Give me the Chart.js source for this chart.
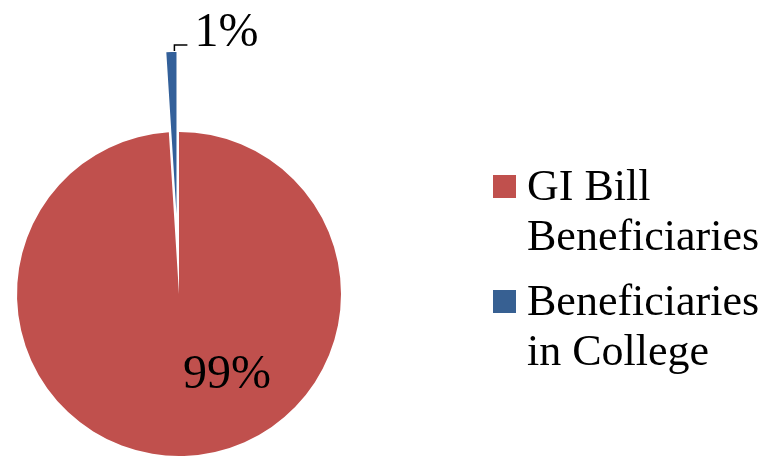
<!DOCTYPE html>
<html>
<head>
<meta charset="utf-8">
<script src="https://cdn.jsdelivr.net/npm/chart.js@4/dist/chart.umd.min.js"></script>
<style>
  html, body { margin: 0; padding: 0; background: #ffffff; }
  #wrap { width: 769px; height: 464px; position: relative; }
</style>
</head>
<body>
<div id="wrap"><canvas id="pie"></canvas></div>
<script>
// Share of GI Bill beneficiaries who were enrolled in college
const categories = ['GI Bill Beneficiaries', 'Beneficiaries in College'];
const legendLines = [['GI Bill', 'Beneficiaries'], ['Beneficiaries', 'in College']];
const shares = [99, 1];
const shareLabels = ['99%', '1%'];
const sliceColors = ['#C0504D', '#33609A'];
const legendColors = ['#C0504D', '#376092'];

const SERIF = '"Liberation Serif", "Times New Roman", serif';

// Pull selected slices straight out from the centre by a fixed distance
const explodePlugin = {
  id: 'explodeSlices',
  afterDatasetUpdate(chart, args, opts) {
    const meta = args.meta;
    (opts.distances || []).forEach((d, i) => {
      const arc = meta.data[i];
      if (!d || !arc) return;
      const mid = (arc.startAngle + arc.endAngle) / 2;
      arc.x += Math.cos(mid) * d;
      arc.y += Math.sin(mid) * d;
    });
  }
};

// Percentage labels: one inside the large slice, one with a small leader line
const valueLabelPlugin = {
  id: 'valueLabels',
  afterDatasetsDraw(chart, args, opts) {
    const ctx = chart.ctx;
    const arcs = chart.getDatasetMeta(0).data;
    ctx.save();
    ctx.fillStyle = '#000';
    ctx.font = '48px ' + SERIF;
    ctx.textBaseline = 'alphabetic';

    // large slice: label placed inside, below and right of the centre
    const big = arcs[0];
    ctx.textAlign = 'center';
    ctx.fillText(shareLabels[0], big.x + opts.inside.dx, big.y + opts.inside.dy);

    // small slice: bracket leader from its outer rim, then the label
    const small = arcs[1];
    const mid = (small.startAngle + small.endAngle) / 2;
    const ox = small.x + Math.cos(mid) * small.outerRadius + opts.leader.startDx;
    const oy = small.y + Math.sin(mid) * small.outerRadius;
    const ty = oy - opts.leader.rise;
    ctx.strokeStyle = '#000';
    ctx.lineWidth = 1.5;
    ctx.beginPath();
    ctx.moveTo(ox, oy - 1);
    ctx.lineTo(ox, ty);
    ctx.lineTo(ox + opts.leader.run, ty);
    ctx.stroke();
    ctx.textAlign = 'left';
    ctx.fillText(shareLabels[1], ox + opts.leader.run + opts.leader.gap, ty + 1);
    ctx.restore();
  }
};

// Legend on the right with wrapped two-line entries
const sideLegendPlugin = {
  id: 'sideLegend',
  afterDraw(chart, args, opts) {
    const ctx = chart.ctx;
    ctx.save();
    ctx.font = opts.fontSize + 'px ' + SERIF;
    ctx.textAlign = 'left';
    ctx.textBaseline = 'alphabetic';
    let y = opts.top;
    legendLines.forEach((lines, i) => {
      ctx.fillStyle = legendColors[i];
      ctx.fillRect(opts.left, y - opts.box - 2, opts.box, opts.box);
      ctx.fillStyle = '#000';
      lines.forEach((line, j) => {
        ctx.fillText(line, opts.textLeft, y + j * opts.lineHeight);
      });
      y += (lines.length - 1) * opts.lineHeight + opts.itemGap;
    });
    ctx.restore();
  }
};

new Chart(document.getElementById('pie'), {
  type: 'pie',
  data: {
    labels: categories,
    datasets: [{
      data: shares,
      backgroundColor: sliceColors,
      borderWidth: 0,
      clip: false
    }]
  },
  options: {
    responsive: true,
    maintainAspectRatio: false,
    animation: false,
    radius: 162,
    layout: { padding: { left: 0, right: 411, top: 124, bottom: 0 } },
    plugins: {
      legend: { display: false },
      tooltip: { enabled: false },
      explodeSlices: { distances: [0, 80] },
      valueLabels: {
        inside: { dx: 48, dy: 94 },
        leader: { startDx: 3, rise: 7, run: 13, gap: 7 }
      },
      sideLegend: {
        left: 493, textLeft: 527, top: 200, box: 23,
        fontSize: 44, lineHeight: 50, itemGap: 65
      }
    }
  },
  plugins: [explodePlugin, valueLabelPlugin, sideLegendPlugin]
});
</script>
</body>
</html>
